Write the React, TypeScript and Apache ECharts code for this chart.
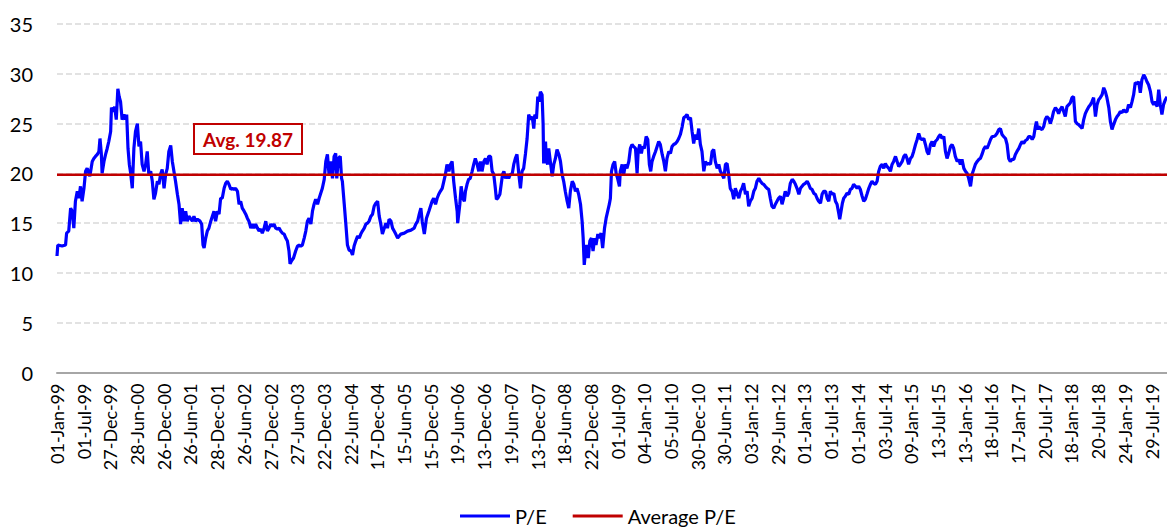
import { useEffect, useRef } from 'react';
import * as echarts from 'echarts';

// Tick labels (one per half-year label interval of the category axis)
const tickLabels = [
  '01-Jan-99', '01-Jul-99', '27-Dec-99', '28-Jun-00', '26-Dec-00', '26-Jun-01', '28-Dec-01',
  '26-Jun-02', '27-Dec-02', '27-Jun-03', '22-Dec-03', '22-Jun-04', '17-Dec-04', '15-Jun-05',
  '15-Dec-05', '19-Jun-06', '13-Dec-06', '19-Jun-07', '13-Dec-07', '18-Jun-08', '22-Dec-08',
  '01-Jul-09', '04-Jan-10', '05-Jul-10', '30-Dec-10', '30-Jun-11', '03-Jan-12', '29-Jun-12',
  '01-Jan-13', '01-Jul-13', '01-Jan-14', '03-Jul-14', '09-Jan-15', '13-Jul-15', '13-Jan-16',
  '18-Jul-16', '17-Jan-17', '20-Jul-17', '18-Jan-18', '20-Jul-18', '24-Jan-19', '29-Jul-19',
];

// [time in label intervals, P/E]
const pe1999to2001: [number, number][] = [
  [0, 11.7], [0.03, 12.8], [0.19, 12.7], [0.32, 12.8], [0.36, 14.0], [0.44, 14.2], [0.51, 16.5], [0.57, 16.2],
  [0.63, 14.5], [0.69, 17.2], [0.76, 18.2], [0.82, 17.5], [0.88, 18.7], [0.94, 17.2], [1.01, 18.5], [1.07, 20.2],
  [1.13, 20.5], [1.23, 19.7], [1.32, 21.2], [1.38, 21.5], [1.44, 21.7], [1.51, 21.9], [1.57, 22.2], [1.61, 23.5],
  [1.66, 22.0], [1.69, 20.0], [1.76, 21.2], [1.82, 21.9], [1.88, 22.5], [1.94, 23.2], [2.01, 24.2], [2.04, 26.6],
  [2.11, 26.2], [2.16, 26.7], [2.22, 25.4], [2.28, 28.5], [2.33, 27.7], [2.38, 27.2], [2.44, 25.4], [2.51, 25.9],
  [2.57, 25.4], [2.61, 25.9], [2.66, 22.5], [2.71, 20.9], [2.76, 20.0], [2.82, 18.5], [2.88, 22.5], [2.94, 24.2],
  [3.01, 25.0], [3.07, 22.7], [3.13, 23.2], [3.19, 20.9], [3.26, 20.2], [3.32, 20.9], [3.38, 22.2], [3.44, 19.9],
  [3.51, 20.2], [3.57, 19.2], [3.63, 17.4], [3.69, 18.0], [3.76, 19.2], [3.82, 18.9], [3.88, 19.9], [3.94, 20.4],
  [4.01, 18.5], [4.07, 19.9], [4.13, 20.5], [4.19, 22.2], [4.26, 22.8], [4.32, 21.2], [4.38, 20.2], [4.44, 19.2],
  [4.51, 17.9], [4.57, 16.9], [4.63, 14.9], [4.69, 16.5], [4.76, 15.2], [4.82, 16.2], [4.88, 15.2], [4.94, 15.7],
  [5.07, 15.2], [5.13, 15.7], [5.19, 15.2], [5.26, 15.4], [5.36, 15.2], [5.42, 14.9], [5.47, 12.8], [5.51, 12.5],
  [5.57, 13.5], [5.63, 14.2], [5.69, 14.5], [5.76, 15.2], [5.82, 15.7], [5.88, 16.2], [5.94, 15.2],
];

const pe2002to2005: [number, number][] = [
  [6.01, 16.2], [6.07, 15.9], [6.13, 17.5], [6.19, 17.5], [6.26, 18.5], [6.32, 19.0], [6.38, 19.2], [6.44, 18.9],
  [6.51, 18.4], [6.57, 18.5], [6.63, 18.4], [6.69, 18.5], [6.76, 18.2], [6.82, 16.9], [6.88, 17.2], [6.94, 16.5],
  [7.01, 16.2], [7.07, 15.9], [7.13, 15.5], [7.19, 15.2], [7.26, 14.5], [7.32, 14.9], [7.38, 14.5], [7.44, 14.9],
  [7.51, 14.5], [7.57, 14.2], [7.63, 14.4], [7.69, 14.0], [7.76, 14.5], [7.82, 15.2], [7.88, 14.2], [7.94, 14.5],
  [8.01, 14.9], [8.07, 14.7], [8.13, 14.9], [8.19, 14.5], [8.26, 14.4], [8.32, 14.5], [8.38, 14.2], [8.44, 14.0],
  [8.51, 13.9], [8.57, 13.5], [8.63, 13.2], [8.69, 12.2], [8.73, 10.9], [8.78, 11.2], [8.86, 11.5], [8.94, 12.2],
  [9.01, 12.7], [9.07, 12.8], [9.13, 12.7], [9.19, 12.8], [9.26, 13.5], [9.32, 14.2], [9.38, 15.2], [9.44, 15.5],
  [9.51, 14.9], [9.57, 16.2], [9.63, 16.9], [9.69, 17.4], [9.76, 16.9], [9.82, 17.5], [9.88, 18.0], [9.94, 18.5],
  [10.01, 19.4], [10.07, 21.2], [10.13, 21.9], [10.19, 19.9], [10.26, 21.2], [10.32, 19.5], [10.38, 21.7], [10.44, 22.0],
  [10.48, 19.5], [10.54, 21.5], [10.61, 21.7], [10.66, 19.5], [10.69, 19.2], [10.76, 16.9], [10.82, 14.9], [10.88, 12.8],
  [10.94, 12.3], [11.01, 12.2], [11.07, 11.8], [11.13, 12.7], [11.19, 13.2], [11.26, 13.7], [11.32, 13.5], [11.38, 13.9],
  [11.44, 14.2], [11.51, 14.5], [11.57, 14.9], [11.63, 15.0], [11.69, 15.2], [11.76, 15.7], [11.82, 15.9], [11.88, 16.7],
  [11.94, 17.0], [12.01, 17.2], [12.07, 15.7], [12.13, 14.9], [12.19, 13.9], [12.26, 14.5], [12.32, 15.0], [12.38, 14.5],
  [12.44, 15.4], [12.51, 15.2], [12.57, 14.5], [12.63, 14.2], [12.69, 13.9], [12.76, 13.5], [12.88, 13.9], [13.01, 14.0],
  [13.13, 14.2], [13.26, 14.3], [13.38, 14.5], [13.44, 14.9], [13.51, 15.2], [13.57, 15.9], [13.63, 16.5],
];

const pe2005to2009: [number, number][] = [
  [13.68, 15.2], [13.76, 13.9], [13.84, 15.5], [13.93, 16.2], [14.05, 17.2], [14.11, 17.5], [14.18, 16.9], [14.24, 17.5],
  [14.30, 17.9], [14.36, 18.2], [14.43, 18.5], [14.49, 19.2], [14.55, 19.9], [14.61, 20.9], [14.68, 20.2], [14.74, 20.9],
  [14.80, 21.2], [14.86, 19.2], [14.93, 17.5], [14.99, 16.2], [15.01, 15.0], [15.09, 16.9], [15.14, 18.7], [15.20, 17.5],
  [15.26, 17.2], [15.30, 18.2], [15.36, 18.9], [15.42, 19.4], [15.48, 19.5], [15.55, 20.2], [15.61, 20.9], [15.67, 21.5],
  [15.74, 20.9], [15.80, 20.2], [15.86, 21.2], [15.92, 20.2], [15.99, 21.2], [16.05, 21.5], [16.11, 20.9], [16.17, 21.7],
  [16.24, 21.7], [16.30, 20.2], [16.36, 19.9], [16.42, 18.5], [16.46, 17.4], [16.51, 17.5], [16.59, 17.9], [16.64, 18.9],
  [16.69, 19.9], [16.74, 20.2], [16.80, 19.5], [16.86, 19.9], [16.92, 19.5], [16.98, 19.9], [17.05, 19.9], [17.11, 20.9],
  [17.17, 21.5], [17.23, 21.9], [17.30, 19.9], [17.36, 18.5], [17.42, 20.2], [17.48, 20.5], [17.55, 22.0], [17.61, 23.5],
  [17.67, 25.9], [17.73, 25.4], [17.80, 25.7], [17.86, 24.5], [17.90, 25.9], [17.96, 25.5], [18.01, 27.7], [18.06, 27.2],
  [18.11, 28.2], [18.17, 27.9], [18.21, 24.9], [18.23, 21.0], [18.30, 23.2], [18.33, 21.2], [18.38, 20.9], [18.42, 22.5],
  [18.48, 21.2], [18.55, 19.7], [18.61, 20.9], [18.67, 21.5], [18.73, 22.4], [18.80, 21.9], [18.86, 21.2], [18.92, 19.9],
  [18.98, 19.2], [19.04, 18.2], [19.11, 17.2], [19.17, 16.5], [19.23, 18.2], [19.30, 19.2], [19.36, 18.9], [19.42, 18.2],
  [19.48, 18.5], [19.54, 17.9], [19.61, 16.9], [19.67, 15.2], [19.71, 13.5], [19.75, 10.8], [19.80, 12.2], [19.84, 12.8],
  [19.90, 11.5], [19.96, 13.2], [20.02, 13.5], [20.08, 12.2], [20.14, 13.5], [20.19, 12.8], [20.26, 13.9], [20.32, 13.5],
  [20.38, 14.0], [20.44, 12.5], [20.51, 14.5], [20.57, 15.5], [20.63, 16.2], [20.69, 16.9],
];

const pe2009to2012: [number, number][] = [
  [20.73, 17.5], [20.77, 20.2], [20.83, 20.9], [20.89, 21.2], [20.95, 19.9], [21.00, 19.5], [21.07, 18.7], [21.10, 20.2],
  [21.17, 20.9], [21.23, 19.9], [21.29, 20.9], [21.35, 20.5], [21.42, 21.2], [21.48, 22.5], [21.54, 22.9], [21.60, 22.7],
  [21.67, 22.5], [21.73, 20.0], [21.77, 22.2], [21.83, 22.9], [21.89, 22.0], [21.94, 22.7], [22.00, 22.5], [22.07, 23.7],
  [22.13, 23.4], [22.19, 20.9], [22.24, 20.2], [22.29, 21.2], [22.35, 21.7], [22.42, 22.2], [22.48, 22.7], [22.54, 23.2],
  [22.60, 22.9], [22.67, 21.9], [22.73, 21.2], [22.79, 20.2], [22.85, 21.5], [22.92, 22.2], [22.98, 22.0], [23.04, 22.7],
  [23.10, 22.9], [23.17, 23.0], [23.23, 23.2], [23.29, 23.5], [23.35, 23.9], [23.42, 24.7], [23.48, 25.6], [23.54, 25.7],
  [23.60, 25.9], [23.66, 25.4], [23.73, 25.6], [23.79, 24.2], [23.85, 23.0], [23.91, 23.9], [23.98, 23.4], [24.04, 24.5],
  [24.10, 22.9], [24.16, 22.2], [24.23, 20.2], [24.29, 21.2], [24.35, 20.9], [24.41, 21.0], [24.48, 20.9], [24.54, 22.2],
  [24.60, 22.4], [24.66, 21.2], [24.73, 20.5], [24.79, 20.9], [24.85, 20.2], [24.91, 19.9], [24.98, 19.5], [25.04, 20.9],
  [25.10, 21.0], [25.16, 19.9], [25.22, 18.5], [25.29, 18.2], [25.35, 17.4], [25.41, 18.5], [25.47, 18.0], [25.54, 17.5],
  [25.60, 18.2], [25.66, 18.5], [25.72, 19.0], [25.79, 17.9], [25.85, 18.2], [25.91, 16.7], [25.97, 17.2], [26.04, 17.5],
  [26.10, 18.2], [26.16, 18.5], [26.22, 19.2], [26.29, 19.5], [26.35, 19.2], [26.41, 19.0], [26.47, 18.9], [26.53, 18.7],
  [26.60, 18.5], [26.66, 18.4], [26.72, 17.5], [26.78, 16.7], [26.85, 16.5], [26.91, 16.9], [26.97, 17.2], [27.03, 17.5],
  [27.10, 17.7],
];

const pe2012to2016: [number, number][] = [
  [27.16, 16.9], [27.22, 17.5], [27.28, 18.2], [27.35, 17.7], [27.41, 18.0], [27.47, 19.0], [27.54, 19.4], [27.60, 19.2],
  [27.66, 18.9], [27.72, 18.5], [27.79, 17.9], [27.85, 18.5], [27.91, 18.7], [27.97, 18.9], [28.03, 19.0], [28.10, 19.2],
  [28.16, 18.9], [28.22, 18.5], [28.28, 18.4], [28.35, 18.0], [28.41, 17.9], [28.47, 17.5], [28.53, 17.2], [28.60, 17.0],
  [28.66, 17.9], [28.72, 18.2], [28.79, 18.2], [28.85, 17.5], [28.91, 17.2], [28.97, 18.2], [29.04, 17.9], [29.10, 18.0],
  [29.16, 17.2], [29.22, 16.9], [29.29, 15.9], [29.32, 15.4], [29.37, 16.2], [29.42, 17.0], [29.47, 17.5], [29.53, 17.7],
  [29.59, 18.0], [29.66, 17.9], [29.72, 18.4], [29.78, 18.5], [29.84, 18.9], [29.91, 18.7], [29.97, 18.5], [30.03, 18.7],
  [30.09, 18.4], [30.16, 17.7], [30.22, 17.2], [30.28, 17.4], [30.34, 17.9], [30.41, 18.5], [30.47, 18.9], [30.53, 19.2],
  [30.59, 19.0], [30.66, 18.9], [30.72, 19.2], [30.78, 20.2], [30.84, 20.7], [30.91, 20.9], [30.97, 20.5], [31.03, 21.0],
  [31.09, 20.7], [31.16, 20.5], [31.22, 20.2], [31.28, 20.9], [31.34, 21.2], [31.41, 21.7], [31.47, 21.2], [31.53, 20.7],
  [31.59, 20.9], [31.66, 21.2], [31.72, 21.7], [31.78, 21.9], [31.84, 21.5], [31.90, 20.9], [31.97, 21.5], [32.03, 21.7],
  [32.09, 22.2], [32.16, 22.9], [32.22, 23.4], [32.28, 24.0], [32.34, 23.5], [32.41, 23.4], [32.47, 23.5], [32.53, 22.9],
  [32.59, 22.2], [32.65, 21.9], [32.72, 22.9], [32.78, 23.2], [32.84, 22.7], [32.90, 23.2], [32.97, 23.4], [33.03, 23.7],
  [33.09, 23.9], [33.15, 23.5], [33.22, 23.7], [33.28, 22.2], [33.34, 21.5], [33.40, 22.0], [33.47, 22.7], [33.53, 22.9],
  [33.59, 22.5], [33.65, 21.7], [33.72, 21.2], [33.78, 21.4], [33.84, 20.9], [33.90, 21.4], [33.97, 20.5], [34.03, 20.2],
  [34.09, 20.0], [34.15, 19.5], [34.22, 18.7], [34.28, 19.9],
];

const pe2016to2019: [number, number][] = [
  [34.34, 20.4], [34.40, 20.9], [34.47, 21.2], [34.53, 21.4], [34.59, 21.5], [34.65, 21.9], [34.71, 22.4], [34.78, 22.7],
  [34.84, 22.5], [34.90, 22.9], [34.97, 23.4], [35.03, 23.7], [35.09, 23.7], [35.15, 23.8], [35.21, 24.0], [35.28, 24.4],
  [35.34, 24.5], [35.40, 23.9], [35.46, 23.7], [35.53, 23.5], [35.59, 22.9], [35.65, 21.5], [35.71, 21.2], [35.78, 21.4],
  [35.84, 21.4], [35.90, 21.9], [35.96, 22.2], [36.03, 22.5], [36.09, 22.9], [36.15, 23.2], [36.21, 23.0], [36.28, 23.3],
  [36.34, 23.4], [36.40, 23.7], [36.46, 23.7], [36.53, 23.4], [36.59, 23.7], [36.65, 24.7], [36.69, 25.2], [36.74, 24.4],
  [36.78, 24.7], [36.84, 24.5], [36.90, 24.4], [36.96, 24.7], [37.02, 25.4], [37.08, 25.7], [37.15, 25.5], [37.21, 25.0],
  [37.27, 25.5], [37.33, 26.2], [37.40, 26.6], [37.46, 26.4], [37.52, 26.0], [37.58, 26.4], [37.65, 26.7], [37.71, 26.2],
  [37.77, 25.7], [37.83, 26.7], [37.90, 26.9], [37.96, 27.1], [38.02, 27.6], [38.08, 27.7], [38.15, 25.2], [38.21, 25.0],
  [38.27, 24.9], [38.34, 24.7], [38.40, 24.5], [38.46, 25.4], [38.52, 26.0], [38.59, 26.4], [38.65, 26.7], [38.71, 26.9],
  [38.77, 27.2], [38.83, 27.6], [38.90, 25.7], [38.96, 26.9], [39.02, 27.4], [39.08, 27.6], [39.15, 27.9], [39.21, 28.6],
  [39.27, 28.2], [39.33, 27.6], [39.40, 26.6], [39.46, 25.2], [39.52, 24.4], [39.58, 24.9], [39.65, 25.4], [39.71, 25.7],
  [39.77, 25.9], [39.83, 26.2], [39.90, 26.1], [39.96, 26.4], [40.02, 26.2], [40.08, 26.2], [40.14, 26.9], [40.21, 26.6],
  [40.27, 27.2], [40.33, 27.9], [40.39, 29.1], [40.46, 29.0], [40.52, 29.2], [40.58, 28.1], [40.64, 29.4], [40.71, 29.9],
  [40.77, 29.6], [40.83, 29.2], [40.89, 28.9], [40.96, 28.2], [41.02, 27.2], [41.08, 26.9], [41.14, 27.2], [41.21, 26.7],
  [41.27, 28.4], [41.33, 26.9], [41.39, 25.9], [41.45, 26.9], [41.52, 27.4], [41.58, 27.7],
];

const averagePE = 19.87;
const yTicks = { min: 0, max: 35, interval: 5 };

const FONT = 'Lato, "Open Sans", sans-serif';
const RED = '#C00000';
const BLUE = '#0000FF';

export default function App() {
  const ref = useRef<HTMLDivElement>(null);

  useEffect(() => {
    if (!ref.current) return;
    const chart = echarts.init(ref.current, null, { renderer: 'svg' });
    const peData = [
      ...pe1999to2001, ...pe2002to2005, ...pe2005to2009,
      ...pe2009to2012, ...pe2012to2016, ...pe2016to2019,
    ];
    const lastT = peData[peData.length - 1][0];
    chart.setOption({
      animation: false,
      backgroundColor: '#ffffff',
      grid: { left: 57, right: 0, top: 24, bottom: 158.5, containLabel: false },
      legend: {
        data: [
          { name: 'P/E', icon: 'rect', itemStyle: { color: BLUE } },
          { name: 'Average P/E', icon: 'rect', itemStyle: { color: RED } },
        ],
        left: 455,
        top: 500,
        itemWidth: 50,
        itemHeight: 3,
        itemGap: 26,
        textStyle: { fontFamily: FONT, fontSize: 20, color: '#000', lineHeight: 22 },
      },
      xAxis: {
        type: 'value',
        min: 0,
        max: lastT,
        interval: 1,
        axisLine: { show: true, lineStyle: { color: '#A6A6A6', width: 2 } },
        axisTick: { show: false },
        splitLine: { show: false },
        axisLabel: {
          rotate: 90,
          margin: 11,
          fontFamily: FONT,
          fontSize: 18,
          color: '#000',
          showMaxLabel: false,
          formatter: (v: number) => {
            const i = Math.round(v);
            return Math.abs(v - i) < 1e-6 && tickLabels[i] ? tickLabels[i] : '';
          },
        },
      },
      yAxis: {
        type: 'value',
        min: yTicks.min,
        max: yTicks.max,
        interval: yTicks.interval,
        axisLine: { show: false },
        axisTick: { show: false },
        axisLabel: { margin: 24, fontFamily: FONT, fontSize: 20, color: '#000' },
        splitLine: { show: true, lineStyle: { color: '#D9D9D9', width: 1.5, type: [6, 3] } },
      },
      series: [
        {
          name: 'P/E',
          type: 'line',
          data: peData,
          symbol: 'none',
          showSymbol: false,
          lineStyle: { color: BLUE, width: 3.2 },
          itemStyle: { color: BLUE },
          z: 2,
        },
        {
          name: 'Average P/E',
          type: 'line',
          data: [[0, averagePE], [lastT, averagePE]],
          symbol: 'none',
          showSymbol: false,
          lineStyle: { color: RED, width: 2.5 },
          itemStyle: { color: RED },
          z: 3,
        },
      ],
      graphic: [
        {
          type: 'rect',
          shape: { x: 194, y: 124, width: 108, height: 30 },
          style: { fill: '#ffffff', stroke: RED, lineWidth: 2 },
          z: 10,
        },
        {
          type: 'text',
          x: 248,
          y: 139,
          style: {
            text: 'Avg. ' + averagePE.toFixed(2),
            fill: RED,
            font: 'bold 19px ' + FONT,
            align: 'center',
            verticalAlign: 'middle',
          },
          z: 11,
        },
      ],
    });
    return () => chart.dispose();
  }, []);

  return (
    <div
      ref={ref}
      style={{ position: 'absolute', left: 0, top: 0, width: 1167, height: 531, background: '#fff' }}
    />
  );
}
